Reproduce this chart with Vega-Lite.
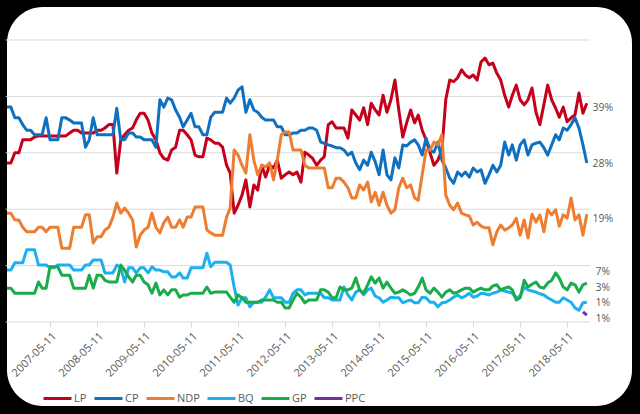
{
  "$schema": "https://vega.github.io/schema/vega-lite/v6.json",
  "width": 625,
  "height": 399,
  "autosize": {"type": "none"},
  "padding": {"left": 7, "top": 7, "right": 8, "bottom": 8},
  "background": "#000000",
  "config": {
    "view": {"fill": "#ffffff", "stroke": null, "cornerRadius": 36},
    "font": "Open Sans",
    "legend": {
      "orient": "none",
      "legendX": 35,
      "legendY": 376,
      "direction": "horizontal",
      "gridAlign": "none",
      "symbolType": "stroke",
      "symbolSize": 784,
      "symbolStrokeWidth": 3,
      "labelFont": "Open Sans",
      "labelFontSize": 11,
      "labelColor": "#595959",
      "labelOffset": 1,
      "columnPadding": 1,
      "padding": 0
    }
  },
  "layer": [
    {
      "data": {"values": [{"g": 0}, {"g": 10}, {"g": 20}, {"g": 30}, {"g": 40}, {"g": 50}]},
      "mark": {"type": "rule", "color": "#D9D9D9", "strokeWidth": 1},
      "encoding": {
        "y": {"field": "g", "type": "quantitative", "axis": null,
              "scale": {"domain": [-14.89, 55.85], "nice": false, "zero": false}},
        "x": {"datum": {"year": 2006, "month": 6, "date": 1, "utc": true}, "type": "temporal",
              "axis": {"values": [
                {"year": 2007, "month": 5, "date": 11, "utc": true},
                {"year": 2008, "month": 5, "date": 11, "utc": true},
                {"year": 2009, "month": 5, "date": 11, "utc": true},
                {"year": 2010, "month": 5, "date": 11, "utc": true},
                {"year": 2011, "month": 5, "date": 11, "utc": true},
                {"year": 2012, "month": 5, "date": 11, "utc": true},
                {"year": 2013, "month": 5, "date": 11, "utc": true},
                {"year": 2014, "month": 5, "date": 11, "utc": true},
                {"year": 2015, "month": 5, "date": 11, "utc": true},
                {"year": 2016, "month": 5, "date": 11, "utc": true},
                {"year": 2017, "month": 5, "date": 11, "utc": true},
                {"year": 2018, "month": 5, "date": 11, "utc": true}
              ],
              "format": "%Y-%m-%d", "labelAngle": -45, "grid": false, "domain": false,
              "ticks": true, "tickColor": "#D9D9D9", "tickSize": 5, "labelPadding": 3,
              "labelColor": "#595959", "labelFont": "Open Sans", "labelFontSize": 11,
              "labelOverlap": false, "labelFlush": false, "offset": -84, "title": null},
              "scale": {"type": "utc", "domain": [{"year": 2006, "month": 6, "date": 11, "utc": true}, {"year": 2019, "month": 9, "date": 27, "utc": true}]}},
        "x2": {"datum": {"year": 2018, "month": 11, "date": 5, "utc": true}}
      }
    },
    {
      "data": {"values": [
        {"d": "2006-06-11", "LP": 28.2, "CP": 38.1, "NDP": 19.3, "BQ": 9.2, "GP": 6},
        {"d": "2006-07-11", "LP": 28.2, "CP": 38.1, "NDP": 19.3, "BQ": 9.2, "GP": 6},
        {"d": "2006-08-11", "LP": 30, "CP": 36.2, "NDP": 18.1, "BQ": 10.5, "GP": 5.1},
        {"d": "2006-09-11", "LP": 30, "CP": 36.2, "NDP": 18.1, "BQ": 10.5, "GP": 5.1},
        {"d": "2006-10-11", "LP": 32.3, "CP": 35, "NDP": 16.8, "BQ": 10.5, "GP": 5.1},
        {"d": "2006-11-11", "LP": 32.3, "CP": 34, "NDP": 16, "BQ": 12.8, "GP": 5.1},
        {"d": "2006-12-11", "LP": 32.3, "CP": 34, "NDP": 16, "BQ": 12.8, "GP": 5.1},
        {"d": "2007-01-11", "LP": 32.8, "CP": 33.2, "NDP": 16, "BQ": 12.8, "GP": 5.1},
        {"d": "2007-02-11", "LP": 33, "CP": 33.2, "NDP": 16.8, "BQ": 10.1, "GP": 7.1},
        {"d": "2007-03-11", "LP": 33, "CP": 33.2, "NDP": 16.8, "BQ": 10.1, "GP": 6},
        {"d": "2007-04-11", "LP": 33, "CP": 36.2, "NDP": 16, "BQ": 10.1, "GP": 6},
        {"d": "2007-05-11", "LP": 33, "CP": 32.3, "NDP": 16.8, "BQ": 9.6, "GP": 9.8},
        {"d": "2007-06-11", "LP": 33, "CP": 32.3, "NDP": 16.8, "BQ": 9.6, "GP": 9.8},
        {"d": "2007-07-11", "LP": 33, "CP": 32.3, "NDP": 16.8, "BQ": 10.1, "GP": 9.8},
        {"d": "2007-08-11", "LP": 33, "CP": 36.2, "NDP": 13.1, "BQ": 10.1, "GP": 8.3},
        {"d": "2007-09-11", "LP": 33, "CP": 36.2, "NDP": 13.1, "BQ": 10.1, "GP": 8.3},
        {"d": "2007-10-11", "LP": 33.5, "CP": 35.8, "NDP": 13.1, "BQ": 10.1, "GP": 8.3},
        {"d": "2007-11-11", "LP": 34, "CP": 35.3, "NDP": 16.8, "BQ": 9.2, "GP": 6},
        {"d": "2007-12-11", "LP": 34, "CP": 35.3, "NDP": 16.8, "BQ": 9.2, "GP": 6},
        {"d": "2008-01-11", "LP": 33.5, "CP": 35.3, "NDP": 16.8, "BQ": 9.2, "GP": 6},
        {"d": "2008-02-11", "LP": 33.5, "CP": 31, "NDP": 19, "BQ": 10.1, "GP": 6},
        {"d": "2008-03-11", "LP": 33.5, "CP": 32.3, "NDP": 19, "BQ": 10.1, "GP": 8.3},
        {"d": "2008-04-11", "LP": 33.5, "CP": 36.2, "NDP": 14, "BQ": 11, "GP": 6},
        {"d": "2008-05-11", "LP": 34, "CP": 33.2, "NDP": 15.1, "BQ": 11, "GP": 8.3},
        {"d": "2008-06-11", "LP": 34, "CP": 33.2, "NDP": 15.1, "BQ": 11, "GP": 8.3},
        {"d": "2008-07-11", "LP": 34.4, "CP": 33.2, "NDP": 16.3, "BQ": 8.7, "GP": 7.4},
        {"d": "2008-08-11", "LP": 35, "CP": 33.2, "NDP": 16.8, "BQ": 8.7, "GP": 7.1},
        {"d": "2008-09-11", "LP": 35, "CP": 33.2, "NDP": 18.6, "BQ": 8.7, "GP": 7.1},
        {"d": "2008-10-11", "LP": 26.4, "CP": 37.9, "NDP": 21.1, "BQ": 10.1, "GP": 7.1},
        {"d": "2008-11-11", "LP": 32.3, "CP": 32.3, "NDP": 19.3, "BQ": 9.6, "GP": 10.1},
        {"d": "2008-12-11", "LP": 33.2, "CP": 32.3, "NDP": 20.2, "BQ": 7.1, "GP": 9.2},
        {"d": "2009-01-11", "LP": 34, "CP": 33.5, "NDP": 19.3, "BQ": 9.6, "GP": 8},
        {"d": "2009-02-11", "LP": 34.4, "CP": 33.5, "NDP": 18.1, "BQ": 9.6, "GP": 7.1},
        {"d": "2009-03-11", "LP": 35.8, "CP": 32.8, "NDP": 13.3, "BQ": 8.7, "GP": 8.3},
        {"d": "2009-04-11", "LP": 37, "CP": 32.8, "NDP": 15.4, "BQ": 9.6, "GP": 8.3},
        {"d": "2009-05-11", "LP": 37, "CP": 32.3, "NDP": 16.3, "BQ": 9.6, "GP": 7.1},
        {"d": "2009-06-11", "LP": 35.8, "CP": 32.3, "NDP": 16.8, "BQ": 8.7, "GP": 6.6},
        {"d": "2009-07-11", "LP": 33.5, "CP": 32.3, "NDP": 19.3, "BQ": 9.8, "GP": 5.1},
        {"d": "2009-08-11", "LP": 32.3, "CP": 31, "NDP": 16.8, "BQ": 9.2, "GP": 6.9},
        {"d": "2009-09-11", "LP": 30, "CP": 39.4, "NDP": 15.8, "BQ": 9.2, "GP": 4.8},
        {"d": "2009-10-11", "LP": 29, "CP": 38.1, "NDP": 17.6, "BQ": 8.9, "GP": 5.7},
        {"d": "2009-11-11", "LP": 28.7, "CP": 39.7, "NDP": 18.6, "BQ": 8.9, "GP": 4.8},
        {"d": "2009-12-11", "LP": 30.5, "CP": 39.4, "NDP": 16.8, "BQ": 8, "GP": 5.7},
        {"d": "2010-01-11", "LP": 31, "CP": 37.6, "NDP": 16.8, "BQ": 8, "GP": 5.7},
        {"d": "2010-02-11", "LP": 34, "CP": 36.3, "NDP": 18.1, "BQ": 8.7, "GP": 4.4},
        {"d": "2010-03-11", "LP": 34, "CP": 34.6, "NDP": 16.8, "BQ": 7.8, "GP": 4.8},
        {"d": "2010-04-11", "LP": 33.2, "CP": 35.8, "NDP": 18.6, "BQ": 7.8, "GP": 4.8},
        {"d": "2010-05-11", "LP": 32.3, "CP": 37, "NDP": 18.6, "BQ": 9.6, "GP": 5.1},
        {"d": "2010-06-11", "LP": 29.6, "CP": 34.6, "NDP": 20.4, "BQ": 9.6, "GP": 5.1},
        {"d": "2010-07-11", "LP": 29.3, "CP": 34.6, "NDP": 20.4, "BQ": 9.6, "GP": 5.1},
        {"d": "2010-08-11", "LP": 29.3, "CP": 33.2, "NDP": 20.4, "BQ": 9.6, "GP": 5.1},
        {"d": "2010-09-11", "LP": 32.6, "CP": 33.2, "NDP": 16.3, "BQ": 12.2, "GP": 6.2},
        {"d": "2010-10-11", "LP": 32.3, "CP": 36.3, "NDP": 15.8, "BQ": 9.8, "GP": 5.1},
        {"d": "2010-11-11", "LP": 31.7, "CP": 37.2, "NDP": 15.4, "BQ": 10.6, "GP": 5.3},
        {"d": "2010-12-11", "LP": 31.7, "CP": 37.2, "NDP": 15.4, "BQ": 10.6, "GP": 5.3},
        {"d": "2011-01-11", "LP": 31, "CP": 37.2, "NDP": 15.4, "BQ": 10.6, "GP": 5.3},
        {"d": "2011-02-11", "LP": 27.8, "CP": 39.7, "NDP": 18.6, "BQ": 10.6, "GP": 5.3},
        {"d": "2011-03-11", "LP": 26.4, "CP": 38.8, "NDP": 20.2, "BQ": 10.1, "GP": 4.4},
        {"d": "2011-04-11", "LP": 19.3, "CP": 39.7, "NDP": 30.5, "BQ": 6.2, "GP": 3.5},
        {"d": "2011-05-11", "LP": 20.7, "CP": 41.1, "NDP": 29.6, "BQ": 3, "GP": 4.8},
        {"d": "2011-06-11", "LP": 22.5, "CP": 41.7, "NDP": 27.8, "BQ": 4.3, "GP": 4.3},
        {"d": "2011-07-11", "LP": 25.2, "CP": 37.2, "NDP": 26.4, "BQ": 4.3, "GP": 3.5},
        {"d": "2011-08-11", "LP": 20.4, "CP": 39.4, "NDP": 33.2, "BQ": 2.7, "GP": 3.5},
        {"d": "2011-09-11", "LP": 24.3, "CP": 37.6, "NDP": 28.7, "BQ": 3.5, "GP": 3.5},
        {"d": "2011-10-11", "LP": 23.4, "CP": 37.2, "NDP": 26.1, "BQ": 3.5, "GP": 3.5},
        {"d": "2011-11-11", "LP": 27.8, "CP": 36.3, "NDP": 27.8, "BQ": 3.5, "GP": 3.9},
        {"d": "2011-12-11", "LP": 25.7, "CP": 35.8, "NDP": 27.5, "BQ": 4.4, "GP": 3.9},
        {"d": "2012-01-11", "LP": 27.8, "CP": 35.8, "NDP": 28.2, "BQ": 5.7, "GP": 3.9},
        {"d": "2012-02-11", "LP": 27.3, "CP": 35.8, "NDP": 25.2, "BQ": 4.3, "GP": 3.9},
        {"d": "2012-03-11", "LP": 28.7, "CP": 34.6, "NDP": 28.7, "BQ": 4.3, "GP": 3.5},
        {"d": "2012-04-11", "LP": 25.5, "CP": 34.6, "NDP": 33.2, "BQ": 4.3, "GP": 3.5},
        {"d": "2012-05-11", "LP": 26.1, "CP": 33.2, "NDP": 33.7, "BQ": 3.5, "GP": 2.5},
        {"d": "2012-06-11", "LP": 26.6, "CP": 33.2, "NDP": 33.7, "BQ": 3.5, "GP": 2.5},
        {"d": "2012-07-11", "LP": 26.1, "CP": 33.5, "NDP": 30.5, "BQ": 5.1, "GP": 3.9},
        {"d": "2012-08-11", "LP": 26.6, "CP": 33.5, "NDP": 30.5, "BQ": 5.7, "GP": 5.1},
        {"d": "2012-09-11", "LP": 24.8, "CP": 34, "NDP": 30.5, "BQ": 5.7, "GP": 4.4},
        {"d": "2012-10-11", "LP": 30.1, "CP": 34, "NDP": 27.8, "BQ": 4.8, "GP": 3.4},
        {"d": "2012-11-11", "LP": 29.6, "CP": 34.4, "NDP": 27.3, "BQ": 5.1, "GP": 3.9},
        {"d": "2012-12-11", "LP": 29, "CP": 34.4, "NDP": 27.3, "BQ": 5.1, "GP": 3.9},
        {"d": "2013-01-11", "LP": 27.8, "CP": 34, "NDP": 27.3, "BQ": 5.1, "GP": 3.9},
        {"d": "2013-02-11", "LP": 28.7, "CP": 31.9, "NDP": 27.3, "BQ": 5.1, "GP": 5.7},
        {"d": "2013-03-11", "LP": 29.3, "CP": 31.7, "NDP": 27.3, "BQ": 4.3, "GP": 5.7},
        {"d": "2013-04-11", "LP": 35, "CP": 31.4, "NDP": 23.8, "BQ": 4.3, "GP": 5.3},
        {"d": "2013-05-11", "LP": 35.5, "CP": 31.2, "NDP": 23.8, "BQ": 3.9, "GP": 4.3},
        {"d": "2013-06-11", "LP": 34.4, "CP": 30.9, "NDP": 25.5, "BQ": 3.9, "GP": 4.3},
        {"d": "2013-07-11", "LP": 34.4, "CP": 30.9, "NDP": 25.5, "BQ": 3.9, "GP": 6.2},
        {"d": "2013-08-11", "LP": 34.4, "CP": 30.5, "NDP": 24.8, "BQ": 6.2, "GP": 5.7},
        {"d": "2013-09-11", "LP": 32.6, "CP": 29.6, "NDP": 23.8, "BQ": 4.8, "GP": 5.7},
        {"d": "2013-10-11", "LP": 37.6, "CP": 30.1, "NDP": 22, "BQ": 3.9, "GP": 6},
        {"d": "2013-11-11", "LP": 36.7, "CP": 28.2, "NDP": 22, "BQ": 5.3, "GP": 7.8},
        {"d": "2013-12-11", "LP": 35.8, "CP": 27, "NDP": 24.3, "BQ": 5.7, "GP": 5.7},
        {"d": "2014-01-11", "LP": 38, "CP": 28.7, "NDP": 23.4, "BQ": 4.8, "GP": 5.1},
        {"d": "2014-02-11", "LP": 35, "CP": 27.8, "NDP": 24.8, "BQ": 5.7, "GP": 6.6},
        {"d": "2014-03-11", "LP": 38.8, "CP": 30.1, "NDP": 21.3, "BQ": 6, "GP": 8},
        {"d": "2014-04-11", "LP": 37.6, "CP": 28.4, "NDP": 23, "BQ": 4.6, "GP": 6.9},
        {"d": "2014-05-11", "LP": 36.7, "CP": 26.1, "NDP": 20.7, "BQ": 4.3, "GP": 7.8},
        {"d": "2014-06-11", "LP": 40.2, "CP": 30.5, "NDP": 23, "BQ": 3.5, "GP": 6},
        {"d": "2014-07-11", "LP": 37.2, "CP": 26.1, "NDP": 20.7, "BQ": 3.9, "GP": 7.1},
        {"d": "2014-08-11", "LP": 39.4, "CP": 25.2, "NDP": 19.3, "BQ": 4.4, "GP": 6},
        {"d": "2014-09-11", "LP": 42.9, "CP": 29.1, "NDP": 19.9, "BQ": 4.3, "GP": 5.1},
        {"d": "2014-10-11", "LP": 37.6, "CP": 27.3, "NDP": 23.8, "BQ": 4.3, "GP": 5.3},
        {"d": "2014-11-11", "LP": 32.8, "CP": 31.4, "NDP": 25.5, "BQ": 3.4, "GP": 5.7},
        {"d": "2014-12-11", "LP": 35.3, "CP": 31.2, "NDP": 23.8, "BQ": 3.7, "GP": 5.3},
        {"d": "2015-01-11", "LP": 37.6, "CP": 31.9, "NDP": 24.3, "BQ": 3.9, "GP": 4.8},
        {"d": "2015-02-11", "LP": 35.3, "CP": 32.3, "NDP": 22, "BQ": 3.4, "GP": 5.1},
        {"d": "2015-03-11", "LP": 36.7, "CP": 31.4, "NDP": 21.6, "BQ": 3.4, "GP": 6.2},
        {"d": "2015-04-11", "LP": 34, "CP": 29.6, "NDP": 26.1, "BQ": 4.4, "GP": 7.8},
        {"d": "2015-05-11", "LP": 32.3, "CP": 32.6, "NDP": 30.5, "BQ": 4.3, "GP": 5.7},
        {"d": "2015-06-11", "LP": 30, "CP": 30.5, "NDP": 30.5, "BQ": 3.5, "GP": 5.1},
        {"d": "2015-07-11", "LP": 27.8, "CP": 30.1, "NDP": 31.9, "BQ": 3.5, "GP": 6},
        {"d": "2015-08-11", "LP": 28.7, "CP": 31.9, "NDP": 31.4, "BQ": 2.7, "GP": 5.3},
        {"d": "2015-09-11", "LP": 30.5, "CP": 28.7, "NDP": 33.2, "BQ": 3.4, "GP": 4.4},
        {"d": "2015-10-11", "LP": 39.4, "CP": 27.3, "NDP": 22.5, "BQ": 3.5, "GP": 5.3},
        {"d": "2015-11-11", "LP": 42.9, "CP": 25.5, "NDP": 20.7, "BQ": 3.9, "GP": 5.7},
        {"d": "2015-12-11", "LP": 42.6, "CP": 24.6, "NDP": 19.9, "BQ": 4.4, "GP": 5.1},
        {"d": "2016-01-11", "LP": 43.3, "CP": 26.6, "NDP": 21.1, "BQ": 4.8, "GP": 5.3},
        {"d": "2016-02-11", "LP": 44.7, "CP": 25.9, "NDP": 19.3, "BQ": 4.3, "GP": 5.7},
        {"d": "2016-03-11", "LP": 43.8, "CP": 26.6, "NDP": 19, "BQ": 4.6, "GP": 6},
        {"d": "2016-04-11", "LP": 43.3, "CP": 25.7, "NDP": 18.8, "BQ": 5.1, "GP": 6},
        {"d": "2016-05-11", "LP": 43.8, "CP": 27.3, "NDP": 17.2, "BQ": 4.4, "GP": 5.3},
        {"d": "2016-06-11", "LP": 42.9, "CP": 26.6, "NDP": 17.7, "BQ": 4.6, "GP": 5.7},
        {"d": "2016-07-11", "LP": 46.1, "CP": 27, "NDP": 17, "BQ": 5.1, "GP": 6},
        {"d": "2016-08-11", "LP": 46.8, "CP": 24.6, "NDP": 16.7, "BQ": 5, "GP": 5.7},
        {"d": "2016-09-11", "LP": 45.6, "CP": 26.1, "NDP": 16.7, "BQ": 4.8, "GP": 5.7},
        {"d": "2016-10-11", "LP": 45.9, "CP": 27.8, "NDP": 13.7, "BQ": 5.1, "GP": 6.4},
        {"d": "2016-11-11", "LP": 44.1, "CP": 26.6, "NDP": 16, "BQ": 5.3, "GP": 6.6},
        {"d": "2016-12-11", "LP": 42.9, "CP": 27.8, "NDP": 17.2, "BQ": 5.7, "GP": 5.7},
        {"d": "2017-01-11", "LP": 40.2, "CP": 31.9, "NDP": 16.3, "BQ": 5.5, "GP": 6},
        {"d": "2017-02-11", "LP": 38.1, "CP": 29.6, "NDP": 16.7, "BQ": 5.3, "GP": 6.2},
        {"d": "2017-03-11", "LP": 40.2, "CP": 31.4, "NDP": 17.2, "BQ": 5.1, "GP": 5.7},
        {"d": "2017-04-11", "LP": 42, "CP": 28.7, "NDP": 18.4, "BQ": 4.3, "GP": 3.9},
        {"d": "2017-05-11", "LP": 39.4, "CP": 31.4, "NDP": 15.4, "BQ": 4.6, "GP": 4.3},
        {"d": "2017-06-11", "LP": 38.5, "CP": 32.3, "NDP": 18.1, "BQ": 6.2, "GP": 7.4},
        {"d": "2017-07-11", "LP": 39.4, "CP": 29.6, "NDP": 14.9, "BQ": 5.7, "GP": 6.2},
        {"d": "2017-08-11", "LP": 41.5, "CP": 31.4, "NDP": 19.1, "BQ": 5.5, "GP": 6.7},
        {"d": "2017-09-11", "LP": 37.2, "CP": 31.7, "NDP": 17.7, "BQ": 5.3, "GP": 7.1},
        {"d": "2017-10-11", "LP": 35, "CP": 31.9, "NDP": 19, "BQ": 5, "GP": 6.2},
        {"d": "2017-11-11", "LP": 38.5, "CP": 30.9, "NDP": 16, "BQ": 4.8, "GP": 6},
        {"d": "2017-12-11", "LP": 42, "CP": 29.6, "NDP": 19.9, "BQ": 4.3, "GP": 6.9},
        {"d": "2018-01-11", "LP": 39.4, "CP": 31.4, "NDP": 19, "BQ": 3.9, "GP": 7.4},
        {"d": "2018-02-11", "LP": 37.9, "CP": 33.2, "NDP": 19.9, "BQ": 3.5, "GP": 8.7},
        {"d": "2018-03-11", "LP": 36.3, "CP": 32.3, "NDP": 17, "BQ": 3.5, "GP": 7.8},
        {"d": "2018-04-11", "LP": 38.1, "CP": 34.4, "NDP": 19, "BQ": 4.3, "GP": 6.2},
        {"d": "2018-05-11", "LP": 35.5, "CP": 34, "NDP": 18.4, "BQ": 3.9, "GP": 5.7},
        {"d": "2018-06-11", "LP": 36.2, "CP": 35, "NDP": 22, "BQ": 3.5, "GP": 6.9},
        {"d": "2018-07-11", "LP": 36.7, "CP": 36.2, "NDP": 18.1, "BQ": 2.5, "GP": 6.6},
        {"d": "2018-08-11", "LP": 40.6, "CP": 34.4, "NDP": 19, "BQ": 2.1, "GP": 5.3},
        {"d": "2018-09-11", "LP": 37, "CP": 31.4, "NDP": 15.4, "BQ": 3.4, "GP": 6.6, "PPC": 1.8},
        {"d": "2018-10-11", "LP": 38.8, "CP": 28.2, "NDP": 19.1, "BQ": 3.5, "GP": 6.9, "PPC": 1.2}
      ]},
      "transform": [{"fold": ["LP", "CP", "NDP", "BQ", "GP", "PPC"], "as": ["party", "v"]}],
      "mark": {"type": "line", "strokeWidth": 3, "strokeJoin": "round"},
      "encoding": {
        "x": {"field": "d", "type": "temporal"},
        "y": {"field": "v", "type": "quantitative"},
        "color": {
          "field": "party",
          "type": "nominal",
          "title": null,
          "scale": {
            "domain": ["LP", "CP", "NDP", "BQ", "GP", "PPC"],
            "range": ["#C4001A", "#0F70C0", "#ED7D31", "#1CB1EE", "#1AAB4B", "#7030A0"]
          }
        }
      }
    },
    {
      "data": {"values": [
        {"d": "2018-10-11", "v": 37.9, "t": "39%"},
        {"d": "2018-10-11", "v": 28.0, "t": "28%"},
        {"d": "2018-10-11", "v": 18.3, "t": "19%"},
        {"d": "2018-10-11", "v": 8.9, "t": "7%"},
        {"d": "2018-10-11", "v": 6.0, "t": "3%"},
        {"d": "2018-10-11", "v": 3.3, "t": "1%"},
        {"d": "2018-10-11", "v": 0.5, "t": "1%"}
      ]},
      "mark": {"type": "text", "align": "center", "baseline": "middle", "dx": 16, "fontSize": 10.5, "color": "#595959", "font": "Open Sans"},
      "encoding": {
        "x": {"field": "d", "type": "temporal"},
        "y": {"field": "v", "type": "quantitative"},
        "text": {"field": "t", "type": "nominal"}
      }
    }
  ]
}
